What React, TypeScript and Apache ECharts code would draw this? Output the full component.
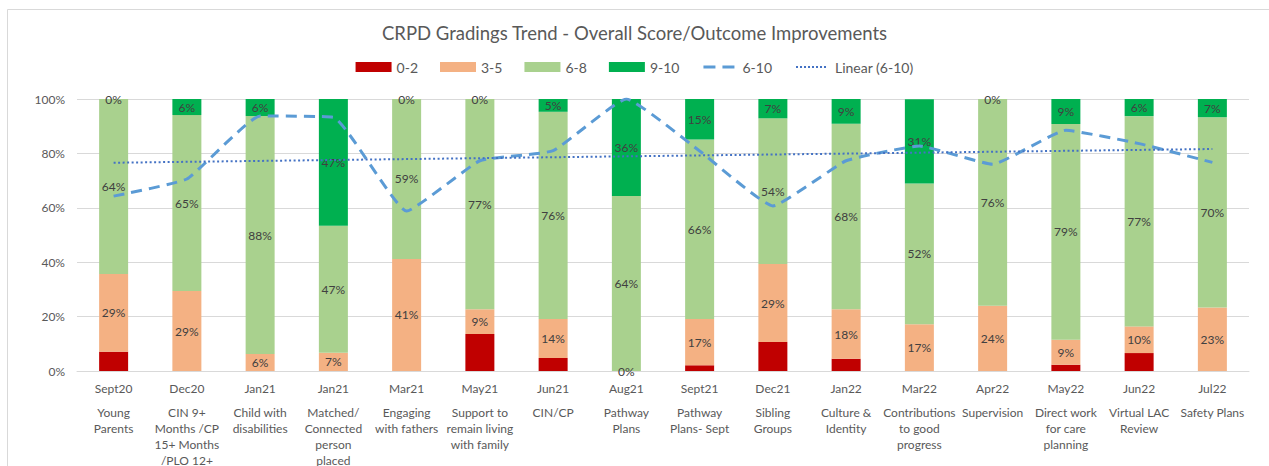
import React, { useEffect, useRef } from 'react';
import * as echarts from 'echarts';

const chartTitle = 'CRPD Gradings Trend - Overall Score/Outcome Improvements';

const periods = ['Sept20', 'Dec20', 'Jan21', 'Jan21', 'Mar21', 'May21', 'Jun21', 'Aug21', 'Sept21', 'Dec21', 'Jan22', 'Mar22', 'Apr22', 'May22', 'Jun22', 'Jul22'];
const topics = [
  'Young\nParents',
  'CIN 9+\nMonths /CP\n15+ Months\n/PLO 12+',
  'Child with\ndisabilities',
  'Matched/\nConnected\nperson\nplaced',
  'Engaging\nwith fathers',
  'Support to\nremain living\nwith family',
  'CIN/CP',
  'Pathway\nPlans',
  'Pathway\nPlans- Sept',
  'Sibling\nGroups',
  'Culture &\nIdentity',
  'Contributions\nto good\nprogress',
  'Supervision',
  'Direct work\nfor care\nplanning',
  'Virtual LAC\nReview',
  'Safety Plans',
];

const grade0to2 = [7.1, 0, 0, 0, 0, 13.6, 4.8, 0, 2.1, 10.7, 4.5, 0, 0, 2.3, 6.6, 0];
const grade3to5 = [28.6, 29.4, 6.25, 6.7, 41.2, 9.1, 14.3, 0, 17.0, 28.6, 18.2, 17.2, 24, 9.2, 9.8, 23.3];
const grade6to8 = [64.3, 64.7, 87.5, 46.7, 58.8, 77.3, 76.2, 64.3, 66.0, 53.6, 68.2, 51.7, 76, 79.3, 77.3, 70];
const grade9to10 = [0, 5.9, 6.25, 46.6, 0, 0, 4.8, 35.7, 14.9, 7.1, 9.1, 31.0, 0, 9.2, 6.3, 6.7];
const grade6to10 = [64.3, 70.6, 93.75, 93.3, 58.8, 77.3, 81.0, 100, 80.9, 60.7, 77.3, 82.7, 76, 88.5, 83.6, 76.7];

const yTickStep = 20;

// Linear trendline (least squares) of the 6-10 series, as Excel computes it
function linearTrend(values: number[]): number[] {
  const n = values.length;
  const xs = values.map((_, i) => i + 1);
  const mx = xs.reduce((a, b) => a + b, 0) / n;
  const my = values.reduce((a, b) => a + b, 0) / n;
  let sxy = 0;
  let sxx = 0;
  for (let i = 0; i < n; i++) {
    sxy += (xs[i] - mx) * (values[i] - my);
    sxx += (xs[i] - mx) * (xs[i] - mx);
  }
  const slope = sxy / sxx;
  const intercept = my - slope * mx;
  return xs.map((x) => +(intercept + slope * x).toFixed(3));
}

const FONT = 'Lato, "Noto Sans", "Liberation Sans", sans-serif';
const TEXT = '#595959';
const LABEL = '#404040';
const GRID = '#d9d9d9';

// legend icons (tiny corner specks keep the 36x10 box so the marks are not stretched)
const BOX = 'M0,0h0.01v0.01h-0.01z M36,10h-0.01v-0.01h0.01z ';
const dashIcon = 'path://' + BOX + 'M2,3.5h12v3h-12z M21,3.5h12v3h-12z';
const dotIcon =
  'path://' + BOX + [2, 6, 10, 14, 18, 22, 26, 30].map((x) => `M${x},4h2v2h-2z`).join(' ');

function barLabel() {
  return {
    show: true,
    position: 'inside',
    color: LABEL,
    fontSize: 12,
    fontFamily: FONT,
    formatter: (p: any) => Math.round(p.value) + '%',
  };
}

export default function App() {
  const ref = useRef<HTMLDivElement>(null);

  useEffect(() => {
    if (!ref.current) return;
    const chart = echarts.init(ref.current, null, { renderer: 'svg' });
    const trend = linearTrend(grade6to10);

    const option: any = {
      animation: false,
      backgroundColor: '#ffffff',
      textStyle: { fontFamily: FONT },
      graphic: [
        {
          type: 'rect',
          silent: true,
          z: -10,
          shape: { x: 7.5, y: 9.5, width: 1300, height: 500 },
          style: { fill: 'none', stroke: GRID, lineWidth: 1 },
        },
      ],
      title: {
        text: chartTitle,
        left: 'center',
        top: 18,
        textStyle: { fontSize: 18.5, fontWeight: 'normal', color: TEXT, fontFamily: FONT },
      },
      legend: {
        top: 55,
        left: 'center',
        itemWidth: 36,
        itemHeight: 10,
        itemGap: 22,
        textStyle: { fontSize: 14, color: TEXT, fontFamily: FONT },
        data: [
          { name: '0-2', icon: 'rect' },
          { name: '3-5', icon: 'rect' },
          { name: '6-8', icon: 'rect' },
          { name: '9-10', icon: 'rect' },
          { name: '6-10', icon: dashIcon },
          { name: 'Linear (6-10)', icon: dotIcon },
        ],
      },
      grid: { left: 77, right: 20, top: 99, bottom: 94, containLabel: false },
      xAxis: {
        type: 'category',
        data: topics,
        axisLine: { lineStyle: { color: GRID } },
        axisTick: { length: 100, lineStyle: { color: GRID } },
        axisLabel: {
          interval: 0,
          margin: 1,
          color: TEXT,
          fontSize: 12,
          formatter: (value: string, idx: number) => {
            const lines = value.split('\n').map((l) => `{n|${l}}`);
            return [`{d|${periods[idx]}}`, ...lines].join('\n');
          },
          rich: {
            d: { fontSize: 12, lineHeight: 32, color: TEXT, fontFamily: FONT },
            n: { fontSize: 12, lineHeight: 16, color: TEXT, fontFamily: FONT },
          },
        },
      },
      yAxis: {
        type: 'value',
        min: 0,
        max: 100,
        interval: yTickStep,
        axisLine: { show: false },
        axisTick: { show: false },
        axisLabel: { formatter: '{value}%', color: TEXT, fontSize: 12, margin: 12 },
        splitLine: { lineStyle: { color: GRID } },
      },
      series: [
        {
          name: '0-2',
          type: 'bar',
          stack: 'grades',
          barWidth: 29,
          data: grade0to2,
          itemStyle: { color: '#C00000' },
        },
        {
          name: '3-5',
          type: 'bar',
          stack: 'grades',
          barWidth: 29,
          data: grade3to5,
          itemStyle: { color: '#F4B183' },
          label: barLabel(),
        },
        {
          name: '6-8',
          type: 'bar',
          stack: 'grades',
          barWidth: 29,
          data: grade6to8,
          itemStyle: { color: '#A9D18E' },
          label: barLabel(),
        },
        {
          name: '9-10',
          type: 'bar',
          stack: 'grades',
          barWidth: 29,
          data: grade9to10,
          itemStyle: { color: '#00B050' },
          label: barLabel(),
        },
        {
          name: '6-10',
          type: 'line',
          data: grade6to10,
          smooth: 0.12,
          symbol: 'none',
          z: 5,
          itemStyle: { color: '#5B9BD5' },
          lineStyle: { color: '#5B9BD5', width: 3, type: [11, 7] },
        },
        {
          name: 'Linear (6-10)',
          type: 'line',
          data: trend,
          symbol: 'none',
          z: 5,
          itemStyle: { color: '#4472C4' },
          lineStyle: { color: '#4472C4', width: 2, type: [2, 2.5] },
        },
      ],
    };

    chart.setOption(option);
    return () => chart.dispose();
  }, []);

  return (
    <div
      ref={ref}
      style={{ position: 'fixed', left: 0, top: 0, width: 1269, height: 466, background: '#fff' }}
    />
  );
}
